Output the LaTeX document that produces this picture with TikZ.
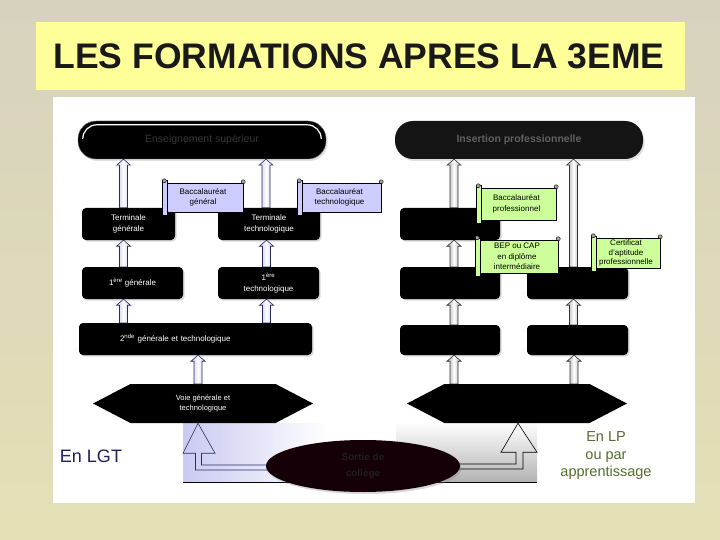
\documentclass[tikz,border=0pt]{standalone}
\usepackage{fontspec}
\setmainfont{Liberation Sans}
\usetikzlibrary{calc,shapes.symbols,shapes.geometric,shadows}

\definecolor{beige}{HTML}{D7D2BD}
\definecolor{paleyellow}{HTML}{E4E0B6}
\definecolor{titleyellow}{HTML}{FFFF99}
\definecolor{lav}{HTML}{C4C4F0}
\definecolor{lavdark}{HTML}{2B2B66}
\definecolor{lavscroll}{HTML}{CCCCFF}
\definecolor{greenscroll}{HTML}{CCFF99}
\definecolor{navytext}{HTML}{1F1F5C}
\definecolor{olivetext}{HTML}{596B2E}
\definecolor{ovalblack}{HTML}{140006}

\tikzset{
  blackbox/.style={fill=black, rounded corners=4pt, text=white, align=center,
    font=\fontsize{8}{11}\selectfont,
    drop shadow={opacity=0.3, shadow xshift=1.5pt, shadow yshift=-1.5pt}},
  capsule/.style={rounded corners=18pt, minimum width=248pt, minimum height=38pt,
    font=\fontsize{10.5}{12}\selectfont,
    drop shadow={opacity=0.25, shadow xshift=1.5pt, shadow yshift=-2pt}},
  scrollbox/.style={draw=black, line width=0.5pt, align=center,
    font=\fontsize{8}{10.5}\selectfont, inner sep=1pt},
  voie/.style={signal, signal to=east and west, signal pointer angle=55, fill=black,
    minimum width=220pt, minimum height=39pt, text=white, align=center,
    font=\fontsize{7.5}{10}\selectfont},
  lavarrow/.style={draw=lavdark, line width=0.6pt, left color=lav, right color=lav, middle color=white},
  grayarrow/.style={draw=black!80, line width=0.6pt, left color=black!35, right color=black!35, middle color=white},
  bentarrow/.style={line width=0.6pt},
}

% hollow up arrow from #2 to the height of #3
\newcommand\blockup[3]{\path[#1] let \p1=#2, \p2=#3 in
  (\x1-4pt,\y1) -- (\x1-4pt,\y2-6pt) -- (\x1-7pt,\y2-6pt) -- (\x1,\y2)
  -- (\x1+7pt,\y2-6pt) -- (\x1+4pt,\y2-6pt) -- (\x1+4pt,\y1) -- cycle;}

% rolled ends of a scroll
\newcommand\scrollcurls[2]{%
  \draw[fill=#2, line width=0.5pt] ($(#1.north west)+(-1,-2)$) rectangle ($(#1.south west)+(4,3)$);
  \draw[fill=black!35, line width=0.4pt] ($(#1.north west)+(1.5,-2)$) circle (2pt);
  \draw[fill=black!35, line width=0.4pt] ($(#1.north east)+(0,-1)$) circle (2pt);
}

\begin{document}
\begin{tikzpicture}[x=1pt,y=-1pt]
  \useasboundingbox (0,0) rectangle (720,540);
  \shade[top color=beige, bottom color=paleyellow] (0,0) rectangle (720,540); %background

  % title
  \fill[titleyellow] (36,22) rectangle (685,90);
  \node[font=\bfseries\fontsize{35.5}{40}\selectfont, text=black!90] (title) at (359,56) {LES FORMATIONS APRES LA 3EME};

  \fill[white] (53,97) rectangle (695,503);

  % top capsules
  \node[capsule, fill=black, draw=black!60, text=black!78] (sup) at (202,140) {Enseignement supérieur};
  \draw[white, line width=1.2pt, rounded corners=14pt]
    ($(sup.west)+(5,-2)$) |- ($(sup.north)+(0,4)$) -| ($(sup.east)+(-5,-2)$);
  \node[capsule, fill=black!92, text=black!62, font=\bfseries\fontsize{10.5}{12}\selectfont] (ins) at (519,140) {Insertion professionnelle};

  % bottom gradients
  \shade[left color=lav!90, right color=white] (183,423) rectangle (328,482);
  \draw (183,482) -- (328,482);
  \shade[top color=white, bottom color=black!30] (396,422) rectangle (537,482);
  \draw (396,482) -- (537,482);

  % general and technological track
  \node[blackbox, minimum width=93pt, minimum height=32pt] (tg) at (128.5,224) {Terminale\\générale};
  \node[blackbox, minimum width=102pt, minimum height=32pt] (tt) at (269,224) {Terminale\\technologique};
  \node[blackbox, minimum width=101pt, minimum height=32pt] (pg) at (132.5,283) {1\textsuperscript{ère} générale};
  \node[blackbox, minimum width=101pt, minimum height=32pt] (pt) at (268.5,283) {1\textsuperscript{ère}\\technologique};
  \node[blackbox, minimum width=233pt, minimum height=32pt, text width=213pt, align=left] (sec) at (195.5,339)
    {\hspace*{31pt}2\textsuperscript{nde} générale et technologique};
  \node[voie] (vgt) at (203,403.5) {Voie générale et\\technologique};

  % professional track
  \node[blackbox, minimum width=100pt, minimum height=32pt] (tp) at (450,224) {};
  \node[blackbox, minimum width=100pt, minimum height=32pt] (bep) at (450,283) {};
  \node[blackbox, minimum width=101pt, minimum height=32pt] (cap) at (577.5,283) {};
  \node[blackbox, minimum width=100pt, minimum height=30pt] (sp) at (450,340) {};
  \node[blackbox, minimum width=101pt, minimum height=30pt] (sc) at (577.5,340) {};
  \node[voie] (vpro) at (517,403.5) {};

  % arrows
  \blockup{lavarrow}{([xshift=-5pt]tg.north)}{(sup.south)}
  \blockup{lavarrow}{([xshift=-3pt]tt.north)}{(sup.south)}
  \blockup{lavarrow}{([xshift=-9pt]pg.north)}{(tg.south)}
  \blockup{lavarrow}{([xshift=-2pt]pt.north)}{(tt.south)}
  \blockup{lavarrow}{([xshift=-72pt]sec.north)}{(pg.south)}
  \blockup{lavarrow}{([xshift=71pt]sec.north)}{(pt.south)}
  \blockup{lavarrow}{([xshift=-5pt]vgt.north)}{(sec.south)}

  \blockup{grayarrow}{([xshift=4pt]tp.north)}{(ins.south)}
  \blockup{grayarrow}{([xshift=4pt]bep.north)}{(tp.south)}
  \blockup{grayarrow}{([xshift=-4pt]cap.north)}{(ins.south)}
  \blockup{grayarrow}{([xshift=4pt]sp.north)}{(bep.south)}
  \blockup{grayarrow}{([xshift=-4pt]sc.north)}{(cap.south)}
  \blockup{grayarrow}{([xshift=-63pt]vpro.north)}{(sp.south)}
  \blockup{grayarrow}{([xshift=57pt]vpro.north)}{(sc.south)}

  % scrolls
  \node[scrollbox, fill=lavscroll, minimum width=80pt, minimum height=29pt] (bg) at (203,197.5) {Baccalauréat\\général};
  \scrollcurls{bg}{lavscroll}
  \node[scrollbox, fill=lavscroll, minimum width=83pt, minimum height=29pt] (bt) at (339.5,197.5) {Baccalauréat\\technologique};
  \scrollcurls{bt}{lavscroll}
  \node[scrollbox, fill=greenscroll, minimum width=79pt, minimum height=32pt] (bp) at (516.5,204) {Baccalauréat\\professionnel};
  \scrollcurls{bp}{greenscroll}
  \node[scrollbox, fill=greenscroll, minimum width=82pt, minimum height=33pt] (bepc) at (517,256.5) {BEP ou CAP\\en diplôme\\intermédiaire};
  \scrollcurls{bepc}{greenscroll}
  \node[scrollbox, fill=greenscroll, minimum width=68pt, minimum height=30pt, font=\fontsize{8}{9.5}\selectfont] (capc) at (626,253) {Certificat\\d'aptitude\\professionnelle};
  \scrollcurls{capc}{greenscroll}

  % bent arrows from the oval
  \node[ellipse, minimum width=194pt, minimum height=52pt] (coll) at (363,466) {};
  \path[bentarrow, draw=lavdark] let \p1=([xshift=-5pt]vgt.south), \p2=(coll.center) in
    (\x1,\y1) -- (\x1+17pt,\y1-30pt) -- (\x1+3.5pt,\y1-30pt) -- (\x1+3.5pt,\y2+1pt)
    -- (\x2,\y2+1pt) -- (\x2,\y2-4pt) -- (\x1-2.5pt,\y2-4pt) -- (\x1-2.5pt,\y1-30pt)
    -- (\x1-15pt,\y1-30pt) -- cycle;
  \path[bentarrow, draw=black] let \p1=([xshift=1pt]vpro.south), \p2=(coll.center) in
    (\x1,\y1) -- (\x1+19pt,\y1-29pt) -- (\x1+5pt,\y1-29pt) -- (\x1+5pt,\y2-3pt)
    -- (\x2,\y2-3pt) -- (\x2,\y2+2pt) -- (\x1-2pt,\y2+2pt) -- (\x1-2pt,\y1-29pt)
    -- (\x1-17pt,\y1-29pt) -- cycle;
  \node[ellipse, fill=ovalblack, minimum width=194pt, minimum height=52pt, align=center,
    text=black!88, font=\bfseries\fontsize{10}{16}\selectfont,
    drop shadow={opacity=0.3, shadow xshift=1.5pt, shadow yshift=-2pt}] at (coll) {Sortie de\\collège};

  % side labels
  \node[text=navytext, font=\fontsize{18}{20}\selectfont] (lgt) at (91,456) {En LGT};
  \node[text=olivetext, align=center, font=\fontsize{14.5}{17.5}\selectfont] (lp) at (606,456) {En LP\\ou par\\apprentissage};
\end{tikzpicture}
\end{document}
